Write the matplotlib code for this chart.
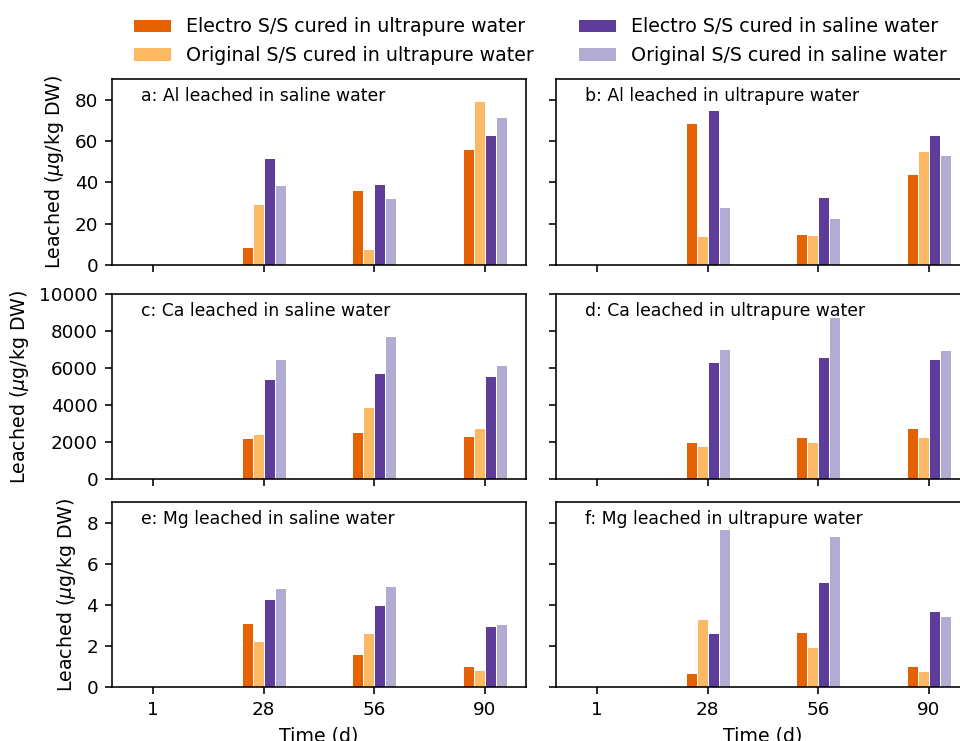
import numpy as np
import matplotlib
matplotlib.use('Agg')
import matplotlib.pyplot as plt
from matplotlib.ticker import MultipleLocator

days = ['1', '28', '56', '90']
series = ['Electro S/S cured in ultrapure water',
          'Original S/S cured in ultrapure water',
          'Electro S/S cured in saline water',
          'Original S/S cured in saline water']
colors = ['#e66101', '#fdb863', '#5e3c99', '#b2abd2']

# values per panel, one list per series (days 1, 28, 56, 90)
al_saline = [[0, 8.7, 36.4, 56.0],
             [0, 29.5, 7.6, 79.5],
             [0.4, 52.0, 39.2, 63.0],
             [0.3, 38.9, 32.5, 71.7]]
al_ultrapure = [[0, 68.7, 14.9, 43.9],
                [0, 13.8, 14.7, 55.2],
                [0.3, 75.1, 32.7, 62.8],
                [0.2, 28.3, 22.8, 53.3]]
ca_saline = [[0, 2216, 2540, 2324],
             [0, 2414, 3892, 2757],
             [0, 5423, 5712, 5568],
             [0, 6468, 7748, 6162]]
ca_ultrapure = [[0, 1982, 2252, 2739],
                [0, 1802, 2018, 2252],
                [0, 6324, 6595, 6505],
                [0, 7009, 8775, 6973]]
mg_saline = [[0, 3.11, 1.60, 1.02],
             [0, 2.22, 2.62, 0.84],
             [0, 4.26, 4.00, 2.98],
             [0, 4.83, 4.89, 3.06]]
mg_ultrapure = [[0, 0.66, 2.70, 1.00],
                [0, 3.30, 1.93, 0.79],
                [0, 2.64, 5.13, 3.68],
                [0, 7.69, 7.34, 3.47]]

panels = [[(al_saline, 'a: Al leached in saline water'),
           (al_ultrapure, 'b: Al leached in ultrapure water')],
          [(ca_saline, 'c: Ca leached in saline water'),
           (ca_ultrapure, 'd: Ca leached in ultrapure water')],
          [(mg_saline, 'e: Mg leached in saline water'),
           (mg_ultrapure, 'f: Mg leached in ultrapure water')]]
ylims = [(0, 90), (0, 10000), (0, 9)]
ysteps = [20, 2000, 2]

plt.rcParams['font.size'] = 9.5
plt.rcParams['xtick.labelsize'] = 9.2
plt.rcParams['ytick.labelsize'] = 9.2

fig, axes = plt.subplots(3, 2, figsize=(960 / 144, 741 / 144), dpi=144,
                         sharex=True, sharey='row')

# axes placement in figure fraction (right column runs past the edge)
W, H = 960, 741
col_x = [112, 556]
ax_w = 414
rows_y = [(79, 265), (294, 479), (502, 687)]

x = np.arange(len(days))
width = 0.1
offsets = [-0.15, -0.05, 0.05, 0.15]

for r in range(3):
    for c in range(2):
        ax = axes[r, c]
        top, bot = rows_y[r]
        ax.set_position([col_x[c] / W, 1 - bot / H, ax_w / W, (bot - top) / H])
        data, title = panels[r][c]
        for i in range(4):
            ax.bar(x + offsets[i], data[i], width, color=colors[i],
                   edgecolor='white', linewidth=0.5, label=series[i])
        ax.text(0.07, 0.91, title, transform=ax.transAxes, va='center',
                fontsize=8.6)
        ax.set_ylim(*ylims[r])
        ax.yaxis.set_major_locator(MultipleLocator(ysteps[r]))
        if c == 0:
            ax.set_ylabel('Leached ($\\mu$g/kg DW)')
        if r == 2:
            ax.set_xlabel('Time (d)')

axes[0, 0].set_xticks(x)
axes[0, 0].set_xticklabels(days)

handles, labels = axes[0, 0].get_legend_handles_labels()
fig.legend(handles, labels, ncol=2, frameon=False, loc='upper center',
           bbox_to_anchor=(0.5625, 1.0), columnspacing=2.3)

fig.savefig('out.png', dpi=144)
